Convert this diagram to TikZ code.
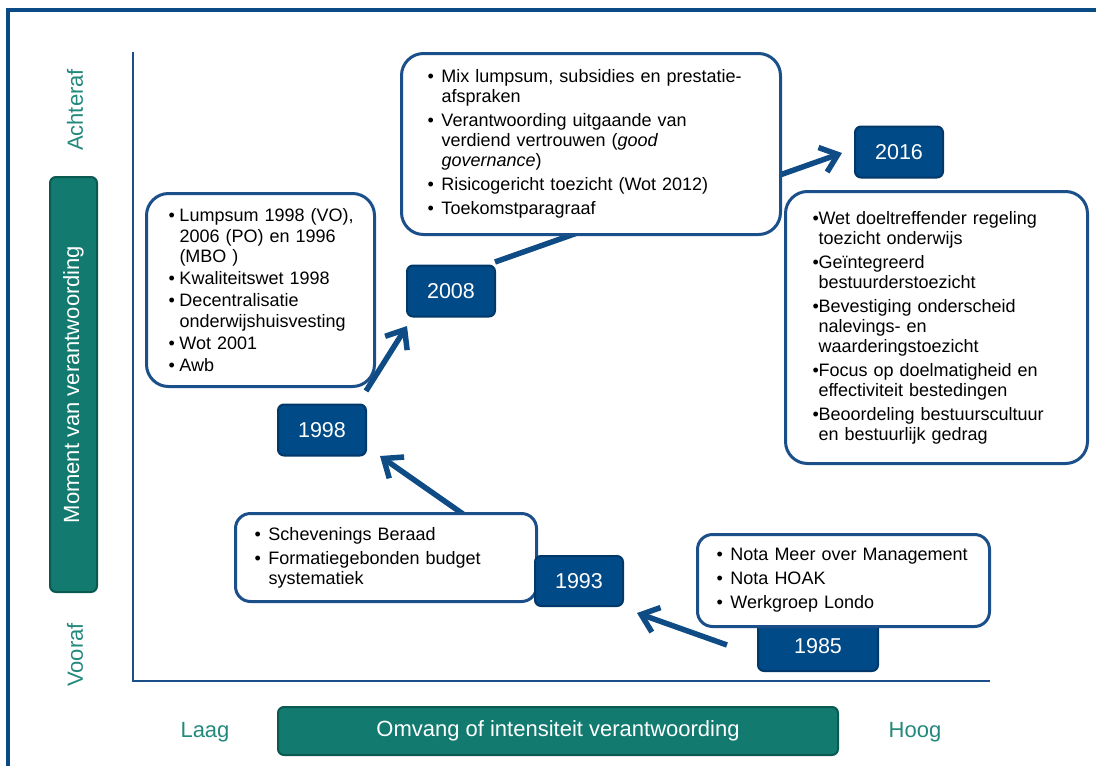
\documentclass[tikz,border=0pt]{standalone}
\usepackage{fontspec}
\setmainfont{Liberation Sans}
\usetikzlibrary{arrows.meta}
\definecolor{cborder}{HTML}{1B4F8A}
\definecolor{yblue}{HTML}{004A87}
\definecolor{ydark}{HTML}{00386A}
\definecolor{ablue}{HTML}{0F4C85}
\definecolor{frameblue}{HTML}{0A4A85}
\definecolor{tealfill}{HTML}{127A6F}
\definecolor{tealdark}{HTML}{0B5A52}
\definecolor{teallabel}{HTML}{23897C}
\newcommand\bI[2]{\mbox{\makebox[#1][l]{•}#2}}
\newcommand\cI[2]{\mbox{\hspace*{#1}#2}}
\tikzset{
  callout/.style={draw=cborder, line width=3pt, fill=white, rounded corners=22pt,
    align=left, anchor=north west, font=\fontsize{18}{20}\selectfont, text=black},
  yearbox/.style={draw=ydark, fill=yblue, line width=2pt, rounded corners=6pt,
    text=white, font=\fontsize{21.5}{24}\selectfont, minimum width=88pt,
    minimum height=51pt, inner sep=0pt},
  arr/.style={draw=ablue, line width=5.5pt, -{Straight Barb[length=16pt,width=26pt]}},
  plainline/.style={draw=ablue, line width=5.5pt},
  tealbox/.style={draw=tealdark, fill=tealfill, line width=2pt, rounded corners=6pt,
    text=white, font=\fontsize{22}{26}\selectfont, inner sep=0pt},
  axislabel/.style={text=teallabel, font=\fontsize{22}{26}\selectfont, inner sep=0pt},
  axisline/.style={draw=cborder, line width=2pt},
}
\begin{document}
\begin{tikzpicture}[x=1pt,y=-1pt]
\useasboundingbox (0,0) rectangle (1096,766);
% outer frame
\draw[frameblue, line width=4pt] (8,766) -- (8,10) -- (1100,10);
% axes
\coordinate (ax0) at (133,681);
\coordinate (axtop) at (133,52);
\coordinate (axright) at (990,681);
\draw[axisline] (axtop) -- (ax0) -- (axright);
% axis labels
\node[axislabel, rotate=90] (achteraf) at (75,110) {Achteraf};
\node[axislabel, rotate=90] (vooraf) at (75,655) {Vooraf};
\node[tealbox, rotate=90, minimum width=415pt, minimum height=47pt] (moment) at (73.5,384.5) {Moment van verantwoording};
\node[axislabel] (laag) at (205,732) {Laag};
\node[axislabel] (hoog) at (915,732) {Hoog};
\node[tealbox, minimum width=560pt, minimum height=48pt] (omvang) at (558,731) {Omvang of intensiteit verantwoording};
% year boxes and connectors (drawn behind callouts)
\node[yearbox] (y2016) at (899,152) {2016};
\node[yearbox] (y2008) at (451,291) {2008};
\node[yearbox] (y1998) at (322,430) {1998};
\node[yearbox, minimum width=120pt, minimum height=50pt] (y1985) at (818,646) {1985};
\coordinate (a1s) at (727,645);
\coordinate (a1e) at (637,613);
\coordinate (a2s) at (463,514);
\coordinate (a2e) at (380,456);
\coordinate (a3s) at (366,391);
\coordinate (a3e) at (407,326);
\coordinate (a4s) at (495,262);
\coordinate (a4e) at (580,232);
\coordinate (a5s) at (760,182);
\coordinate (a5e) at (842,153);
\draw[arr] (a1s) -- (a1e);
\draw[arr] (a2s) -- (a2e);
\draw[arr] (a3s) -- (a3e);
\draw[plainline] (a4s) -- (a4e);
\draw[arr] (a5s) -- (a5e);
% callouts
\node[callout, font=\fontsize{18}{20.5}\selectfont, minimum width=228pt, minimum height=193pt, inner xsep=22pt, inner ysep=0pt, text width=184pt] (boxA) at (145,192) {%
\bI{11pt}{Lumpsum 1998 (VO),}\\
\cI{11pt}{2006 (PO) en 1996}\\
\cI{11pt}{(MBO )}\\[1.5pt]
\bI{11pt}{Kwaliteitswet 1998}\\[1.5pt]
\bI{11pt}{Decentralisatie}\\
\cI{11pt}{onderwijshuisvesting}\\[1.5pt]
\bI{11pt}{Wot 2001}\\[1.5pt]
\bI{11pt}{Awb}};
\node[callout, minimum width=379pt, minimum height=181pt, inner xsep=26pt, inner ysep=0pt, text width=327pt] (boxB) at (400,52) {%
\bI{14pt}{Mix lumpsum, subsidies en prestatie-}\\
\cI{14pt}{afspraken}\\[4pt]
\bI{14pt}{Verantwoording uitgaande van}\\
\cI{14pt}{verdiend vertrouwen (\textit{good}}\\
\cI{14pt}{\textit{governance})}\\[4pt]
\bI{14pt}{Risicogericht toezicht (Wot 2012)}\\[4pt]
\bI{14pt}{Toekomstparagraaf}};
\node[callout, minimum width=302pt, minimum height=272pt, inner xsep=27pt, inner ysep=0pt, text width=248pt] (boxC) at (784,190) {%
\bI{6pt}{Wet doeltreffender regeling}\\
\cI{6pt}{toezicht onderwijs}\\[4pt]
\bI{6pt}{Geïntegreerd}\\
\cI{6pt}{bestuurderstoezicht}\\[4pt]
\bI{6pt}{Bevestiging onderscheid}\\
\cI{6pt}{nalevings- en}\\
\cI{6pt}{waarderingstoezicht}\\[4pt]
\bI{6pt}{Focus op doelmatigheid en}\\
\cI{6pt}{effectiviteit bestedingen}\\[4pt]
\bI{6pt}{Beoordeling bestuurscultuur}\\
\cI{6pt}{en bestuurlijk gedrag}};
\node[callout, rounded corners=15pt, minimum width=301pt, minimum height=88pt, inner xsep=19pt, inner ysep=0pt, text width=263pt] (boxD) at (234,512) {%
\bI{14pt}{Schevenings Beraad}\\[4pt]
\bI{14pt}{Formatiegebonden budget}\\
\cI{14pt}{systematiek}};
\node[callout, rounded corners=15pt, minimum width=292pt, minimum height=92pt, inner xsep=19pt, inner ysep=0pt, text width=254pt] (boxE) at (696,533) {%
\bI{14pt}{Nota Meer over Management}\\[4pt]
\bI{14pt}{Nota HOAK}\\[4pt]
\bI{14pt}{Werkgroep Londo}};
\node[yearbox, minimum width=88pt, minimum height=50pt] (y1993) at (579,581) {1993};
\end{tikzpicture}
\end{document}
